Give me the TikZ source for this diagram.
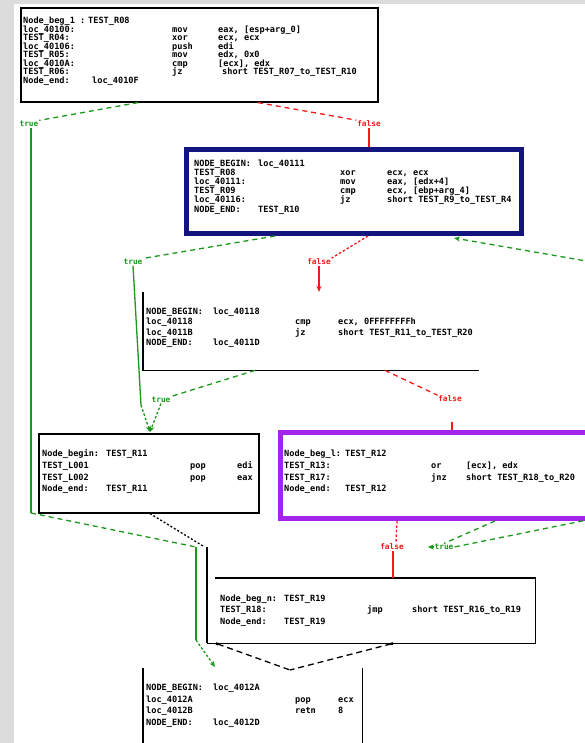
\documentclass[tikz,border=0pt]{standalone}
\usepackage{fontspec}
\setmonofont{DejaVu Sans Mono}
\usetikzlibrary{arrows.meta}

\definecolor{edgegreen}{HTML}{1C981C}
\definecolor{edgered}{HTML}{F51A1A}
\definecolor{navyframe}{HTML}{14147F}
\definecolor{violetframe}{HTML}{A424EC}
\definecolor{panelgray}{HTML}{DCDCDC}

\tikzset{
  asm/.style={font=\ttfamily\bfseries\fontsize{8.6}{9}\selectfont, inner sep=0pt, anchor=base west},
  lbl/.style={font=\ttfamily\bfseries\fontsize{7.8}{8}\selectfont, inner sep=0.6pt},
  blk/.style={draw=black, line width=1.6pt, inner sep=0pt, anchor=north west, fill=white},
  boxframe/.style={line width=5pt, inner sep=0pt, anchor=north west, fill=white},
  hollow/.style={inner sep=0pt, anchor=north west},
  edgeside/.style={draw=black, line width=1.6pt},
  gline/.style={draw=edgegreen, line width=1.3pt},
  gdash/.style={gline, dash pattern=on 5pt off 4pt},
  gdot/.style={gline, dash pattern=on 2.5pt off 2pt},
  rline/.style={draw=edgered, line width=1.3pt},
  rdash/.style={rline, dash pattern=on 5pt off 4pt},
  rdot/.style={rline, dash pattern=on 2.5pt off 2pt},
  kline/.style={draw=black, line width=1.3pt},
  kdash/.style={kline, dash pattern=on 6pt off 4pt},
  kdot/.style={kline, dash pattern=on 2pt off 2pt},
  headend/.style={-{Stealth[length=6pt,width=5pt]}},
  dotstart/.style={{Square[length=2.5pt,width=2.5pt]}-},
}

% one instruction line: name, baseline, x/label, x/mnemonic, x/operands
\newcommand{\asmrow}[8]{%
  \node[asm] (#1l) at (#3,#2) {#4};
  \node[asm] (#1m) at (#5,#2) {#6};
  \node[asm] (#1o) at (#7,#2) {#8};
}
% block header/footer line: name, baseline, x/tag, x/address
\newcommand{\asmhead}[6]{%
  \node[asm] (#1l) at (#3,#2) {#4};
  \node[asm] (#1r) at (#5,#2) {#6};
}

\begin{document}
\begin{tikzpicture}[x=1pt,y=-1pt]
\useasboundingbox (0,0) rectangle (585,743);
\fill[white] (0,0) rectangle (585,743);
\fill[panelgray] (0,0) rectangle (14,743);
\fill[panelgray] (0,0) rectangle (585,4);

% ---------- blocks ----------
\node[blk, minimum width=357pt, minimum height=94pt] (n1) at (20,7) {};
\node[boxframe, draw=navyframe, minimum width=335pt, minimum height=84pt] (n2) at (184,147) {};
\node[hollow, minimum width=336pt, minimum height=78pt] (n3) at (143,292) {};
\node[blk, minimum width=220pt, minimum height=79pt] (n4) at (38,433) {};
\node[boxframe, draw=violetframe, minimum width=330pt, minimum height=86pt] (n5) at (278,430) {};
\node[hollow, minimum width=328pt, minimum height=65pt] (n6) at (207,578) {};
\node[hollow, minimum width=219pt, minimum height=90pt] (n7) at (143,668) {};

\draw[edgeside] (n3.north west) -- (n3.south west) -- (n3.south east);
\draw[edgeside] ([xshift=8pt]n6.north west) -- (n6.north east) -- (n6.south east) -- (n6.south west);
\draw[edgeside] (n7.north west) -- (n7.south west);
\draw[edgeside] (n7.north east) -- (n7.south east);

% ---------- block text ----------
\asmhead{a0}{24}{23}{Node\_beg\_1 :}{88}{TEST\_R08}
\asmrow{a1}{32.5}{23}{loc\_40100:}{172}{mov}{218}{eax, [esp+arg\_0]}
\asmrow{a2}{41}{23}{TEST\_R04:}{172}{xor}{218}{ecx, ecx}
\asmrow{a3}{49.5}{23}{loc\_40106:}{172}{push}{218}{edi}
\asmrow{a4}{58}{23}{TEST\_R05:}{172}{mov}{218}{edx, 0x0}
\asmrow{a5}{66.5}{23}{loc\_4010A:}{172}{cmp}{218}{[ecx], edx}
\asmrow{a6}{75}{23}{TEST\_R06:}{172}{jz}{222}{short TEST\_R07\_to\_TEST\_R10}
\asmhead{a7}{83.5}{23}{Node\_end:}{92}{loc\_4010F}

\asmhead{b0}{167}{194}{NODE\_BEGIN:}{258}{loc\_40111}
\asmrow{b1}{176}{194}{TEST\_R08}{340}{xor}{387}{ecx, ecx}
\asmrow{b2}{185}{194}{loc\_40111:}{340}{mov}{387}{eax, [edx+4]}
\asmrow{b3}{194}{194}{TEST\_R09}{340}{cmp}{387}{ecx, [ebp+arg\_4]}
\asmrow{b4}{203}{194}{loc\_40116:}{340}{jz}{387}{short TEST\_R9\_to\_TEST\_R4}
\asmhead{b5}{212}{194}{NODE\_END:}{258}{TEST\_R10}

\asmhead{c0}{314}{146}{NODE\_BEGIN:}{213}{loc\_40118}
\asmrow{c1}{324.5}{146}{loc\_40118}{295}{cmp}{338}{ecx, 0FFFFFFFFh}
\asmrow{c2}{335}{146}{loc\_4011B}{295}{jz}{338}{short TEST\_R11\_to\_TEST\_R20}
\asmhead{c3}{345.5}{146}{NODE\_END:}{213}{loc\_4011D}

\asmhead{d0}{456}{42}{Node\_begin:}{106}{TEST\_R11}
\asmrow{d1}{468}{42}{TEST\_L001}{190}{pop}{237}{edi}
\asmrow{d2}{480}{42}{TEST\_L002}{190}{pop}{237}{eax}
\asmhead{d3}{491}{42}{Node\_end:}{106}{TEST\_R11}

\asmhead{e0}{456}{284}{Node\_beg\_l:}{345}{TEST\_R12}
\asmrow{e1}{468}{284}{TEST\_R13:}{431}{or}{466}{[ecx], edx}
\asmrow{e2}{480}{284}{TEST\_R17:}{431}{jnz}{466}{short TEST\_R18\_to\_R20}
\asmhead{e3}{491}{284}{Node\_end:}{345}{TEST\_R12}

\asmhead{f0}{601}{220}{Node\_beg\_n:}{284}{TEST\_R19}
\asmrow{f1}{612.5}{220}{TEST\_R18:}{367}{jmp}{412}{short TEST\_R16\_to\_R19}
\asmhead{f2}{624}{220}{Node\_end:}{284}{TEST\_R19}

\asmhead{h0}{690}{146}{NODE\_BEGIN:}{213}{loc\_4012A}
\asmrow{h1}{702}{146}{loc\_4012A}{295}{pop}{338}{ecx}
\asmrow{h2}{713.5}{146}{loc\_4012B}{295}{retn}{338}{8}
\asmhead{h3}{725}{146}{NODE\_END:}{213}{loc\_4012D}

% ---------- branch labels ----------
\node[lbl, text=edgegreen] (lt1) at (29,124) {true};
\node[lbl, text=edgered]   (lf1) at (369,124) {false};
\node[lbl, text=edgegreen] (lt2) at (133,262) {true};
\node[lbl, text=edgered]   (lf2) at (319,262) {false};
\node[lbl, text=edgegreen] (lt3) at (161,400) {true};
\node[lbl, text=edgered]   (lf3) at (450,399) {false};
\node[lbl, text=edgered]   (lf4) at (392,547) {false};
\node[lbl, text=edgegreen] (lt4) at (444,547) {true};

% ---------- bend points and off-page ends ----------
\coordinate (g1a) at (31,513);
\coordinate (g1b) at (196,547);
\coordinate (g1c) at (196,640);
\coordinate (g3a) at (141,405);
\coordinate (g6)  at (592,262);
\coordinate (g9)  at (592,519);
\coordinate (k1)  at (203,546);

% ---------- connectors ----------
% first block, true branch down to the exit block
\draw[gdash] ([xshift=118pt]n1.south west) -- (lt1.north east);
\draw[gline] (lt1.south -| g1a) -- (g1a);
\draw[gdash] (g1a) -- (g1b);
\draw[gline] (g1b) -- (g1c);
\draw[gdot, headend] (g1c) -- ([xshift=72pt,yshift=1pt]n7.north west);

% first block, false branch
\draw[rdash] ([xshift=238pt]n1.south west) -- (lf1.north west);
\draw[rline] (lf1.south) -- (lf1.south |- n2.north);

% loop head
\draw[gdash] ([xshift=91pt]n2.south west) -- (lt2.north east);
\draw[gline] (lt2.south) -- (g3a);
\draw[gdot, headend] (g3a) -- ([xshift=112pt,yshift=1pt]n4.north west);
\draw[rdot] ([xshift=184pt]n2.south west) -- (lf2.north east);
\draw[rline, headend] (lf2.south) -- (lf2.south |- n3.north);
\draw[gdash, headend] (g6) -- ([xshift=270pt,yshift=-2pt]n2.south west);

% compare block
\draw[gdash] ([xshift=112pt]n3.south west) -- (lt3.north east);
\draw[gdot, headend] (lt3.south) -- ([xshift=112pt,yshift=1pt]n4.north west);
\draw[rdash] ([xshift=242pt]n3.south west) -- (lf3.north west);
\draw[rline] ([xshift=174pt,yshift=8pt]n5.north west) -- ([xshift=174pt]n5.north west);

% store block
\draw[rdot] ([xshift=119pt]n5.south west) -- ([xshift=4pt]lf4.north);
\draw[rline] ([xshift=1pt]lf4.south) -- ([xshift=1pt]lf4.south |- n6.north);
\draw[gdash] ([xshift=217pt]n5.south west) -- (lt4.north);
\draw[gdash] (g9) -- (lt4.east);
\draw[gline, headend] (lt4.west) -- ([xshift=-6pt]lt4.west);

% pop block and jump block into the exit block
\draw[kdot] ([xshift=112pt]n4.south west) -- (k1);
\draw[kline] ([yshift=31pt]n6.north west) -- (n6.south west);
\draw[kdash, dotstart] ([xshift=9pt]n6.south west) -- ([xshift=147pt,yshift=-2pt]n7.north west);
\draw[kdash, dotstart] ([xshift=186pt]n6.south west) -- ([xshift=147pt,yshift=-2pt]n7.north west);
\end{tikzpicture}
\end{document}
